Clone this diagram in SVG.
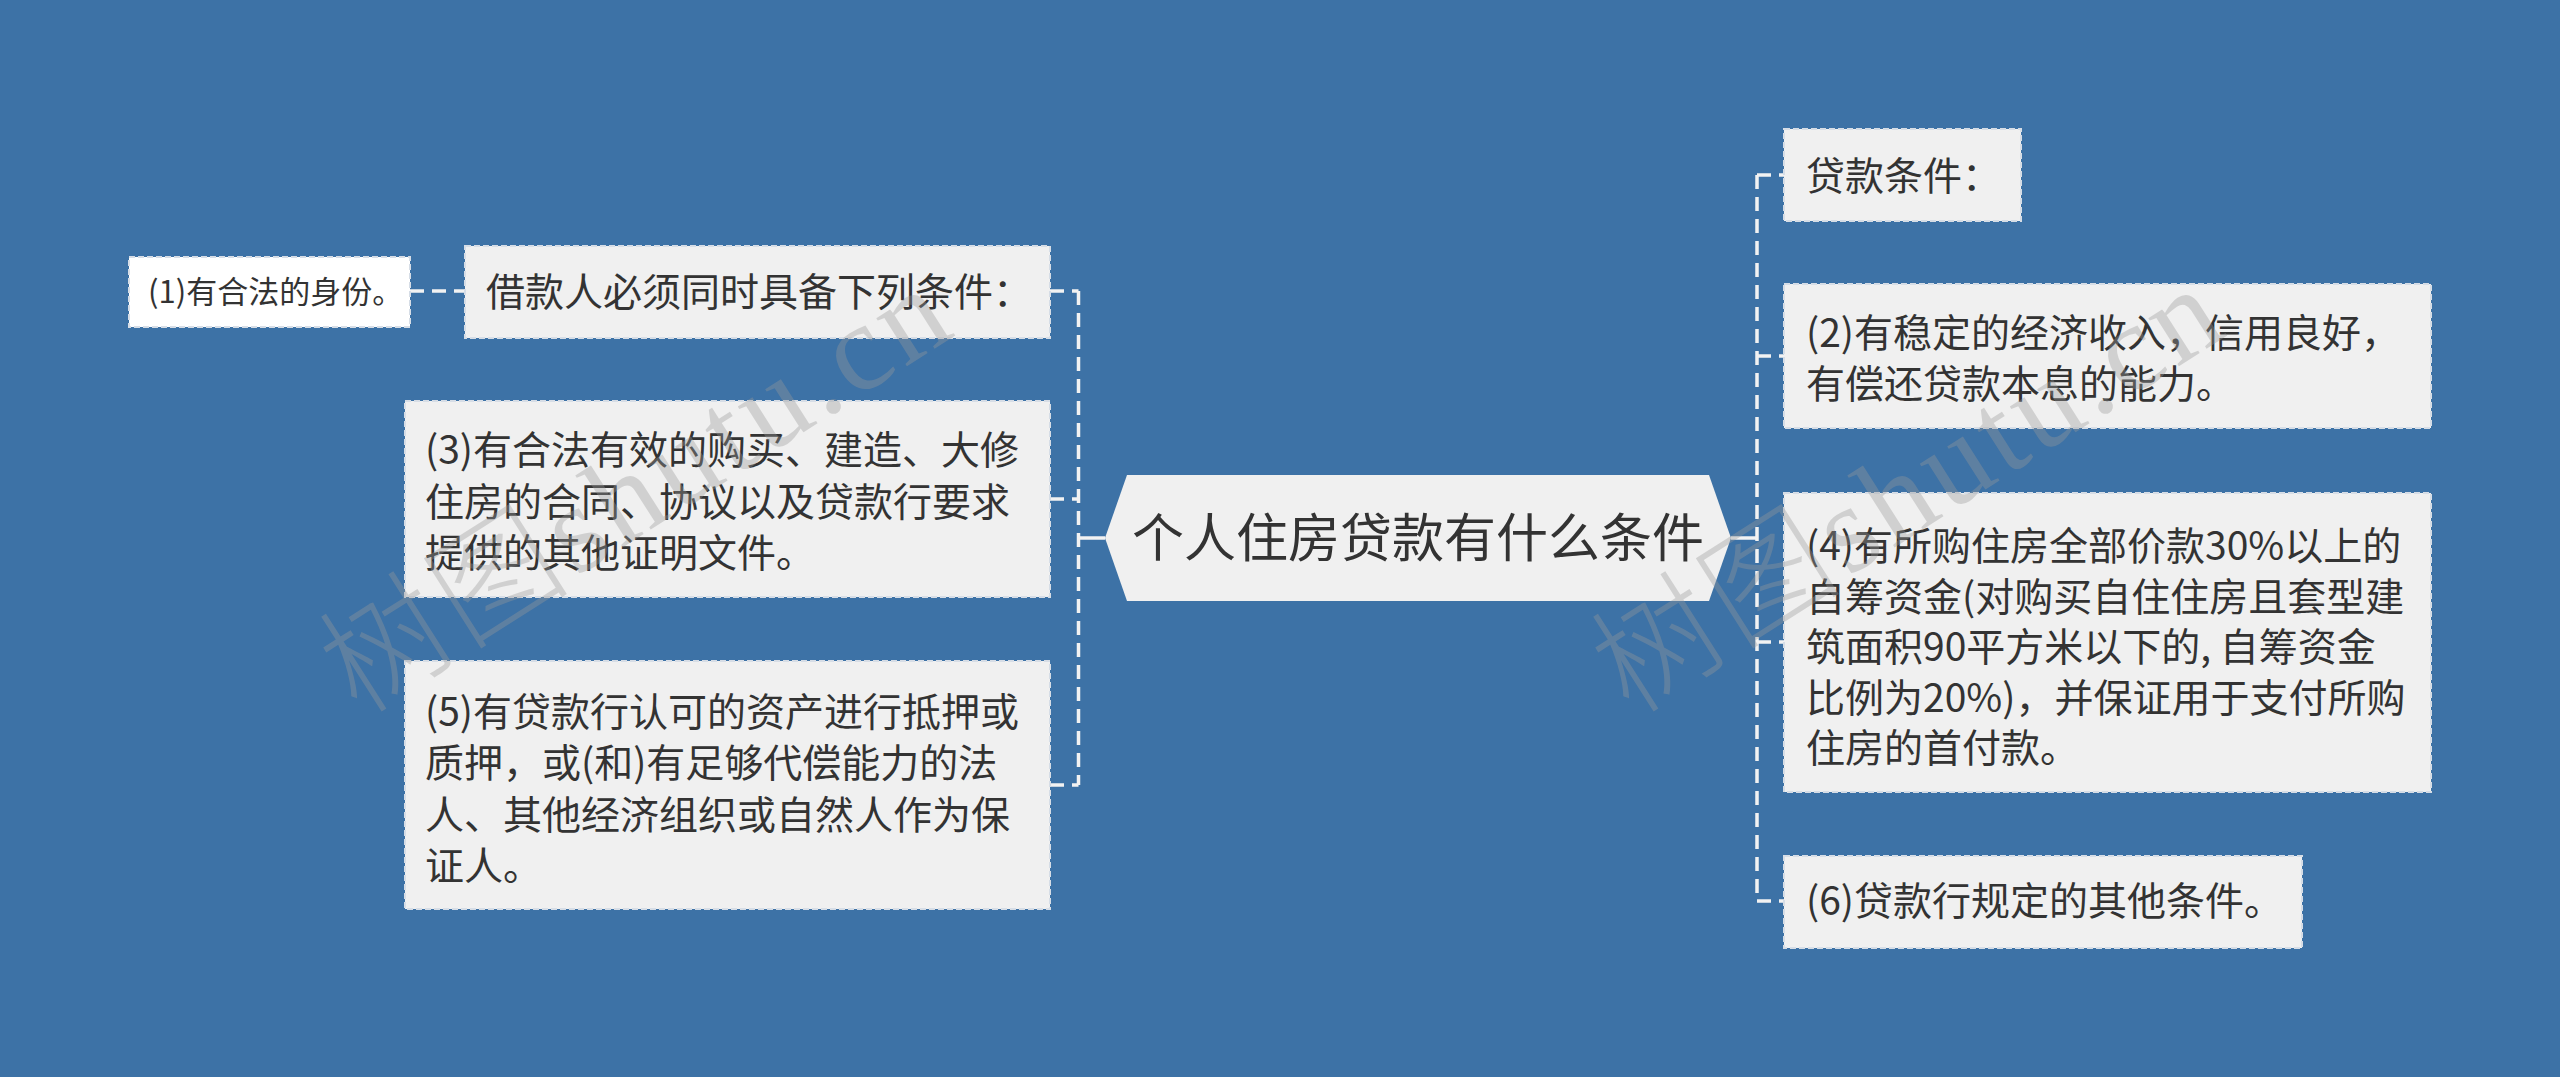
<svg xmlns="http://www.w3.org/2000/svg" width="2560" height="1077" viewBox="0 0 2560 1077">
<style>
.bg{fill:#3d72a6}
.box{fill:#f0f0f0;stroke:#d6dde6;stroke-width:2;stroke-dasharray:6 3}
.boxw{fill:#ffffff;stroke:#d6dde6;stroke-width:2;stroke-dasharray:6 3}
.t{font-family:"Noto Sans CJK SC","Noto Sans",sans-serif;fill:#333333;font-size:39px}
.ts{font-family:"Noto Sans CJK SC","Noto Sans",sans-serif;fill:#333333;font-size:31px}
.tc{font-family:"Noto Sans CJK SC","Noto Sans",sans-serif;fill:#333333;font-size:52px;text-anchor:middle}
.dash{fill:none;stroke:#f2f2f2;stroke-width:3.5;stroke-dasharray:14 8}
.solid{fill:none;stroke:#f2f2f2;stroke-width:3.5}
.wm{font-family:"Liberation Serif","Noto Sans CJK SC",serif;font-size:124px;font-weight:300;fill:#9a9a9a;opacity:0.36}
</style>
<rect class="bg" x="0" y="0" width="2560" height="1077"/>

<g id="connectors">
  <path class="solid" d="M1105 538 H1078.5"/>
  <path class="dash" d="M1078.5 291 V785"/>
  <path class="dash" d="M1050 291 H1078.5"/>
  <path class="dash" d="M1050 499 H1078.5"/>
  <path class="dash" d="M1050 785 H1078.5"/>
  <path class="dash" d="M410 291 H465"/>
  <path class="solid" d="M1731 538 H1757"/>
  <path class="dash" d="M1757 175 V901"/>
  <path class="dash" d="M1757 175 H1784"/>
  <path class="dash" d="M1757 356 H1784"/>
  <path class="dash" d="M1757 642 H1784"/>
  <path class="dash" d="M1757 901 H1784"/>
</g>

<g id="center">
  <polygon points="1105,538 1127,475 1709,475 1731,538 1709,601 1127,601" fill="#f0f0f0"/>
  <text class="tc" x="1418" y="557">个人住房贷款有什么条件</text>
</g>

<g id="n1">
  <rect class="boxw" x="129" y="257" width="281" height="70"/>
  <text class="ts" x="148" y="303">(1)有合法的身份。</text>
</g>

<g id="n_borrower">
  <rect class="box" x="465" y="246" width="585" height="92"/>
  <text class="t" x="486" y="306">借款人必须同时具备下列条件：</text>
</g>

<g id="n3">
  <rect class="box" x="405" y="401" width="645" height="196"/>
  <text class="t" x="425" y="464">(3)有合法有效的购买、建造、大修</text>
  <text class="t" x="425" y="515.5">住房的合同、协议以及贷款行要求</text>
  <text class="t" x="425" y="567">提供的其他证明文件。</text>
</g>

<g id="n5">
  <rect class="box" x="405" y="661" width="645" height="248"/>
  <text class="t" x="425" y="725.5">(5)有贷款行认可的资产进行抵押或</text>
  <text class="t" x="425" y="777">质押，或(和)有足够代偿能力的法</text>
  <text class="t" x="425" y="828.5">人、其他经济组织或自然人作为保</text>
  <text class="t" x="425" y="880">证人。</text>
</g>

<g id="n_cond">
  <rect class="box" x="1784" y="129" width="237" height="92"/>
  <text class="t" x="1806" y="190">贷款条件：</text>
</g>

<g id="n2">
  <rect class="box" x="1784" y="284" width="647" height="144"/>
  <text class="t" x="1806" y="346.5">(2)有稳定的经济收入，信用良好，</text>
  <text class="t" x="1806" y="398">有偿还贷款本息的能力。</text>
</g>

<g id="n4">
  <rect class="box" x="1784" y="493" width="647" height="299"/>
  <text class="t" x="1806" y="560">(4)有所购住房全部价款30%以上的</text>
  <text class="t" x="1806" y="610.5">自筹资金(对购买自住住房且套型建</text>
  <text class="t" x="1806" y="661">筑面积90平方米以下的, 自筹资金</text>
  <text class="t" x="1806" y="711.5">比例为20%)，并保证用于支付所购</text>
  <text class="t" x="1806" y="762">住房的首付款。</text>
</g>

<g id="n6">
  <rect class="box" x="1784" y="856" width="518" height="92"/>
  <text class="t" x="1806" y="915">(6)贷款行规定的其他条件。</text>
</g>

<g id="watermark">
  <text class="wm" transform="translate(358,716) rotate(-32.5)" textLength="710" lengthAdjust="spacing">树图shutu.cn</text>
  <text class="wm" transform="translate(1630,716) rotate(-32.5)" textLength="710" lengthAdjust="spacing">树图shutu.cn</text>
</g>
</svg>
